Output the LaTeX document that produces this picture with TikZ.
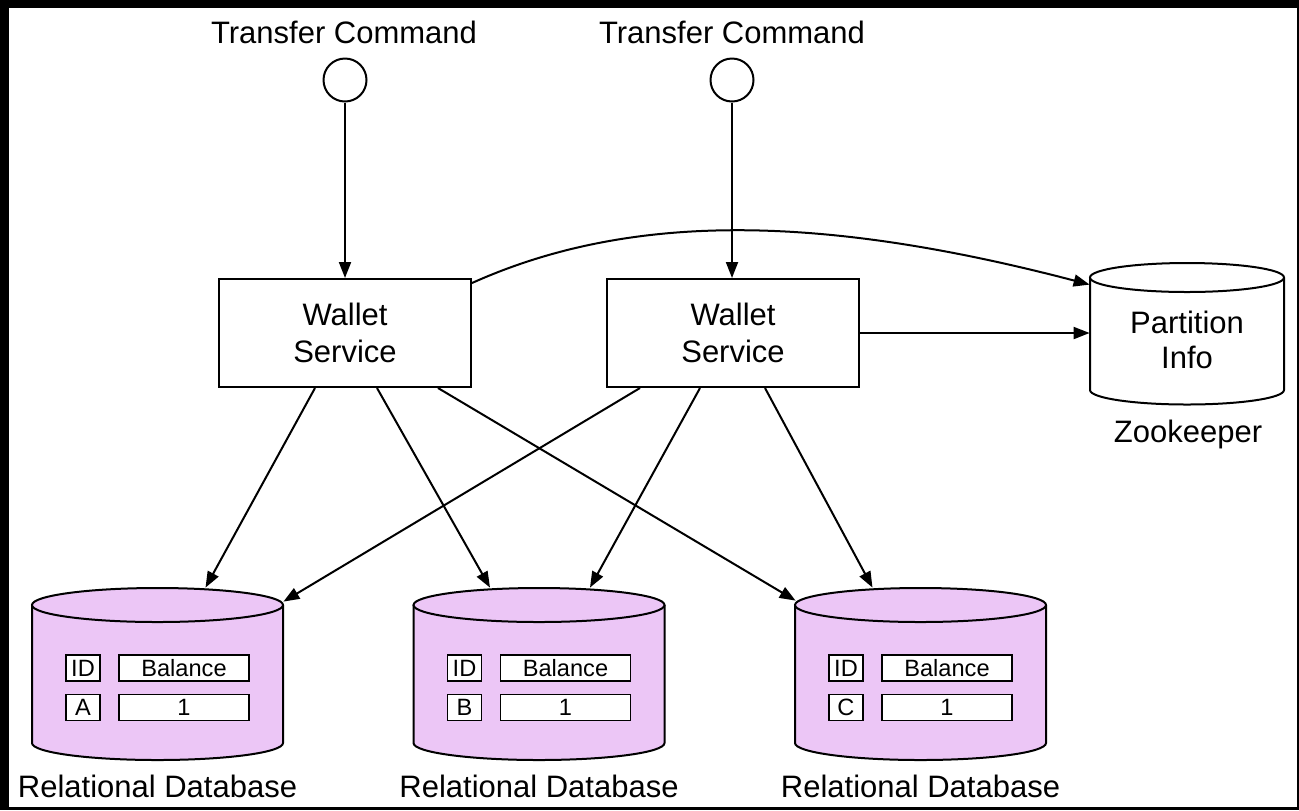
\documentclass[tikz,border=0pt]{standalone}
\usepackage{fontspec}
\setmainfont{Liberation Sans}
\usetikzlibrary{arrows.meta,calc}
\definecolor{dbfill}{HTML}{ECC6F6}
\newcommand{\cylshape}[6]{%
  \fill[#6] (#1-#4,#2) -- (#1-#4,#3) .. controls (#1-#4,#3+0.5523*#5) and (#1-0.5523*#4,#3+#5) .. (#1,#3+#5) .. controls (#1+0.5523*#4,#3+#5) and (#1+#4,#3+0.5523*#5) .. (#1+#4,#3) -- (#1+#4,#2) -- cycle;
  \draw[line width=1pt] (#1-#4,#2) -- (#1-#4,#3) .. controls (#1-#4,#3+0.5523*#5) and (#1-0.5523*#4,#3+#5) .. (#1,#3+#5) .. controls (#1+0.5523*#4,#3+#5) and (#1+#4,#3+0.5523*#5) .. (#1+#4,#3) -- (#1+#4,#2);
  \filldraw[fill=#6, line width=1pt] (#1,#2) ellipse [x radius=#4, y radius=#5];
}
\begin{document}
\begin{tikzpicture}[x=0.5pt,y=-0.5pt,
  every node/.style={font=\fontsize{15.5}{18.5}\selectfont},
  lbl/.style={inner sep=0pt, anchor=base},
  wbox/.style={draw, line width=1pt, minimum width=126pt, minimum height=54pt, inner sep=0pt, align=center, fill=white},
  src/.style={draw, circle, line width=1pt, minimum size=21.5pt, inner sep=0pt, fill=white},
  arr/.style={line width=1pt, -{Triangle[length=8pt,width=6pt]}},
  cell/.style={draw, fill=white, line width=0.8pt, inner sep=0pt, minimum height=13pt, font=\fontsize{11.8}{13}\selectfont},
  idcell/.style={cell, minimum width=17pt},
  balcell/.style={cell, minimum width=65pt},
  area/.style={inner sep=0pt, draw=none}
]
\fill[black] (0,0) rectangle (1299,810);
\fill[white] (9,8) rectangle (1297,807);
\useasboundingbox (0,0) rectangle (1299,810);

% sources
\node[lbl] (t1) at (344,43) {Transfer Command};
\node[lbl] (t2) at (732,43) {Transfer Command};
\node[src] (c1) at (345,80) {};
\node[src] (c2) at (732,80) {};

% wallet services
\node[wbox] (ws1) at (345,333) {Wallet\\Service};
\node[wbox] (ws2) at (733,333) {Wallet\\Service};

% zookeeper
\cylshape{1187}{277.5}{390}{97}{14.5}{white}
\node[area, minimum width=97pt, minimum height=70.5pt] (zk) at (1187,333.5) {};
\node[align=center, inner sep=0pt, font=\fontsize{15.5}{17.2}\selectfont] (pi) at (1187,340) {Partition\\Info};
\node[lbl] (zkl) at (1188,442) {Zookeeper};

% databases
\cylshape{157.5}{605}{743}{125.5}{17}{dbfill}
\cylshape{539}{605}{743}{125.5}{17}{dbfill}
\cylshape{920.5}{605}{743}{125.5}{17}{dbfill}
\node[area, minimum width=125.5pt, minimum height=86pt] (db1) at (157.5,674) {};
\node[area, minimum width=125.5pt, minimum height=86pt] (db2) at (539,674) {};
\node[area, minimum width=125.5pt, minimum height=86pt] (db3) at (920.5,674) {};

\node[idcell] (id1) at (83,668) {ID};
\node[balcell] (b1) at (184,668) {Balance};
\node[idcell] (k1) at (83,707.5) {A};
\node[balcell] (v1) at (184,707.5) {1};

\node[idcell] (id2) at (464.5,668) {ID};
\node[balcell] (b2) at (565.5,668) {Balance};
\node[idcell] (k2) at (464.5,707.5) {B};
\node[balcell] (v2) at (565.5,707.5) {1};

\node[idcell] (id3) at (846,668) {ID};
\node[balcell] (b3) at (947,668) {Balance};
\node[idcell] (k3) at (846,707.5) {C};
\node[balcell] (v3) at (947,707.5) {1};

\node[lbl] (rd1) at (157.5,797) {Relational Database};
\node[lbl] (rd2) at (539,797) {Relational Database};
\node[lbl] (rd3) at (920.5,797) {Relational Database};

% connectors
\draw[arr] (c1.south) -- (c1.south |- ws1.north);
\draw[arr] (c2.south) -- (c2.south |- ws2.north);
\draw[arr] ($(ws1.north east)+(0,5)$) .. controls (630,212) and (820,214) .. ($(zk.north west)+(0,22)$);
\draw[arr] (ws2.east) -- (ws2.east -| zk.west);

\draw[arr] ($(ws1.south)+(-30,0)$) -- ($(db1.north)+(48,0)$);
\draw[arr] ($(ws1.south)+(32,0)$) -- ($(db2.north)+(-49,0)$);
\draw[arr] ($(ws1.south)+(93,0)$) -- ($(db3.north west)+(1,13)$);
\draw[arr] ($(ws2.south)+(-93,0)$) -- ($(db1.north east)+(0,14)$);
\draw[arr] ($(ws2.south)+(-33,0)$) -- ($(db2.north)+(51,0)$);
\draw[arr] ($(ws2.south)+(32,0)$) -- ($(db3.north)+(-48,0)$);
\end{tikzpicture}
\end{document}
